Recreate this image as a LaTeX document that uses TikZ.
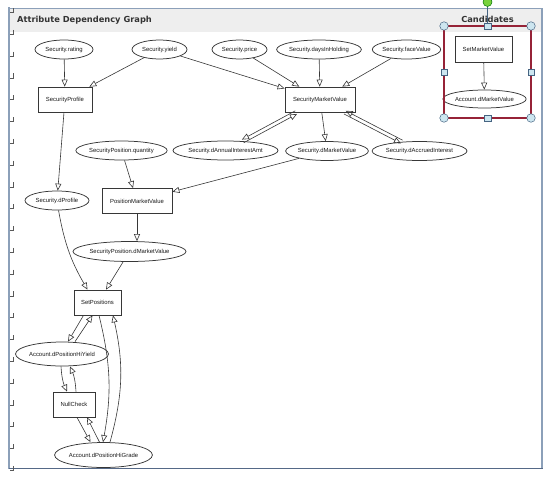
\documentclass[tikz,border=0pt]{standalone}
\usepackage{fontspec}
\setmainfont{Liberation Sans}
\newfontfamily\titlefont{DejaVu Sans}
\usetikzlibrary{shapes.geometric,arrows.meta}
\definecolor{framec}{RGB}{140,160,185}
\definecolor{framedark}{RGB}{85,105,135}
\definecolor{selred}{RGB}{150,35,55}
\definecolor{handlefill}{RGB}{205,230,240}
\definecolor{handleline}{RGB}{70,100,130}
\definecolor{edgec}{RGB}{55,55,55}
\definecolor{greenh}{RGB}{120,210,60}
\begin{document}
\begin{tikzpicture}[x=1pt,y=1pt,
  lbl/.style={font=\fontsize{5.9}{6}\selectfont, text=black!90},
  ell/.style={ellipse, draw=edgec, line width=0.75pt, inner sep=0pt, minimum height=19pt, lbl},
  bx/.style={rectangle, draw=edgec, line width=0.75pt, inner sep=0pt, minimum height=25pt, lbl},
  arr/.style={draw=edgec, line width=0.6pt, -{Triangle[open, length=7pt, width=6pt]}},
  hdr/.style={font=\titlefont\bfseries\fontsize{8.3}{9}\selectfont, text=black!80, inner sep=0pt},
  hcirc/.style={circle, draw=handleline, fill=handlefill, line width=0.5pt, minimum size=8.5pt, inner sep=0pt},
  hsq/.style={rectangle, draw=handleline, fill=handlefill, line width=0.5pt, minimum size=6.5pt, inner sep=0pt},
]
\useasboundingbox (0,0) rectangle (553,-479);
% frame
\fill[gray!13] (10,-9) rectangle (541,-32);
\draw[framec, line width=0.9pt] (9,-8) -- (542,-8);
\draw[framec, line width=1.6pt] (9,-7) -- (9,-469);
\draw[framec, line width=1.6pt] (542,-8) -- (542,-469);
\draw[framedark, line width=1.3pt] (9,-468.5) -- (542.5,-468.5);
\foreach \k in {0,...,21}{
  \draw[black!65, line width=0.5pt] (12.8,{-8-21.8*\k}) -- (12.8,{-12.5-21.8*\k}) -- (9.5,{-12.5-21.8*\k});
}
\node[hdr, anchor=west] (title) at (17,-20) {Attribute Dependency Graph};
\node[hdr] (cand) at (487.5,-19.5) {Candidates};

% top row
\node[ell, minimum width=58pt] (rating) at (64,-49.5) {Security.rating};
\node[ell, minimum width=55pt] (yield) at (159.5,-49.5) {Security.yield};
\node[ell, minimum width=55pt] (price) at (239.5,-49.5) {Security.price};
\node[ell, minimum width=84pt] (days) at (319,-49.5) {Security.daysInHolding};
\node[ell, minimum width=67pt] (face) at (406.5,-49.5) {Security.faceValue};
% boxes row 2
\node[bx, minimum width=54pt] (prof) at (65,-99.5) {SecurityProfile};
\node[bx, minimum width=70pt] (smv) at (320,-99.5) {SecurityMarketValue};
% row 3
\node[ell, minimum width=87pt] (qty) at (121.5,-150.5) {SecurityPosition.quantity};
\node[ell, minimum width=96pt] (daia) at (225.5,-150.5) {Security.dAnnualInterestAmt};
\node[ell, minimum width=79pt] (dmv) at (327,-151) {Security.dMarketValue};
\node[ell, minimum width=80pt] (dai) at (419.5,-151) {Security.dAccruedInterest};
% row 4
\node[ell, minimum width=64pt] (dprof) at (57,-200.5) {Security.dProfile};
\node[bx, minimum width=70pt] (pmv) at (137,-201) {PositionMarketValue};
\node[ell, minimum width=95pt, minimum height=20pt] (spdmv) at (129.5,-251.5) {SecurityPosition.dMarketValue};
% lower part
\node[bx, minimum width=47pt] (setpos) at (97.5,-302.5) {SetPositions};
\node[ell, minimum width=90pt, minimum height=24pt] (hiy) at (62,-354) {Account.dPositionHiYield};
\node[bx, minimum width=42pt] (nc) at (74,-404.5) {NullCheck};
\node[ell, minimum width=93pt, minimum height=25pt] (higr) at (103.5,-455) {Account.dPositionHiGrade};

% candidates
\node[bx, minimum width=57pt, minimum height=26pt] (setmv) at (483.5,-49.5) {SetMarketValue};
\node[ell, minimum width=78pt, minimum height=18pt] (acdmv) at (484.5,-99) {Account.dMarketValue};

% edges
\draw[arr] (rating) -- (prof);
\draw[arr] (yield) -- (prof);
\draw[arr] (yield) -- (smv);
\draw[arr] (price) -- (smv);
\draw[arr] (days) -- (smv);
\draw[arr] (face) -- (smv);
\draw[arr, transform canvas={shift={(-0.86,1.59)}}] (smv) -- (daia);
\draw[arr, transform canvas={shift={(0.86,-1.59)}}] (daia) -- (smv);
\draw[arr] (smv) -- (dmv);
\draw[arr, transform canvas={shift={(0.83,1.6)}}] (dai) -- (smv);
\draw[arr, transform canvas={shift={(-0.83,-1.6)}}] (smv) -- (dai);
\draw[arr] (prof) -- (dprof);
\draw[arr] (qty) -- (pmv);
\draw[arr] (dmv) -- (pmv);
\draw[arr] (pmv.south) -- (pmv.south |- spdmv.north);
\draw[arr] (dprof) to[bend right=10] ([xshift=-10pt]setpos.north);
\draw[arr] (spdmv) -- ([xshift=8.5pt]setpos.north);
\draw[arr] ([xshift=-14pt]setpos.south) -- ([xshift=6pt]hiy.north);
\draw[arr] ([xshift=13pt]hiy.north) -- ([xshift=-5pt]setpos.south);
\draw[arr] ([xshift=-1pt]hiy.south) to[bend right=10] ([xshift=-7pt]nc.north);
\draw[arr] ([xshift=2pt]nc.north) to[bend right=10] ([xshift=8pt]hiy.south);
\draw[arr] ([xshift=3pt]nc.south) -- ([xshift=-13pt]higr.north);
\draw[arr] ([xshift=-4pt]higr.north) -- ([xshift=13pt]nc.south);
\draw[arr] ([xshift=1.5pt]setpos.south) to[bend left=12] ([xshift=-0.5pt]higr.north);
\draw[arr] ([xshift=6.5pt]higr.north) to[bend right=14] ([xshift=15.5pt]setpos.south);
\draw[arr] (setmv) -- (acdmv);

% selection
\draw[selred, line width=1.5pt] (444,-26) rectangle (531,-118);
\node[circle, draw=green!45!black, fill=greenh, line width=0.5pt, minimum size=9pt, inner sep=0pt] (rot) at (487.5,-2) {};
\node[hsq] (hn) at (487.5,-26) {};
\draw[handleline, line width=0.6pt] (rot) -- (hn);
\node[hsq] (hs) at (487.5,-118) {};
\node[hsq] (hw) at (444,-72) {};
\node[hsq] (he) at (531,-72) {};
\node[hcirc] (hnw) at (444,-26) {};
\node[hcirc] (hne) at (531,-26) {};
\node[hcirc] (hsw) at (444,-118) {};
\node[hcirc] (hse) at (531,-118) {};
\end{tikzpicture}
\end{document}
